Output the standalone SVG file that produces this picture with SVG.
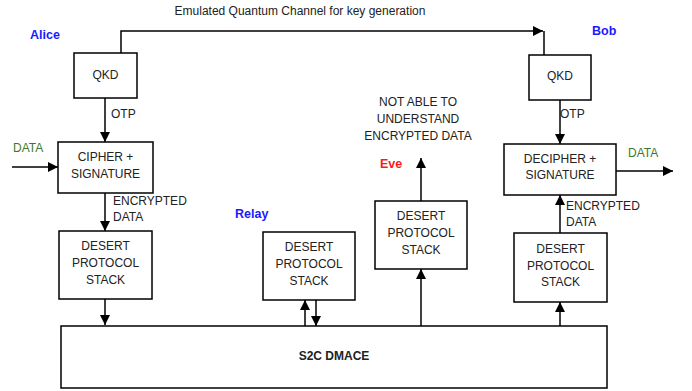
<svg xmlns="http://www.w3.org/2000/svg" width="692" height="391" viewBox="0 0 692 391">
<defs>
<marker id="ah" viewBox="0 0 10 10" refX="10" refY="5" markerWidth="10" markerHeight="10" markerUnits="userSpaceOnUse" orient="auto">
<path d="M0,0 L10,5 L0,10 z" fill="#000"/>
</marker>
</defs>
<style>
.box{fill:#fff;stroke:#000;stroke-width:1.5}
.t{font-family:"Liberation Sans",Arial,sans-serif;font-size:12px;fill:#222;text-anchor:middle}
.l{font-family:"Liberation Sans",Arial,sans-serif;font-size:12px;fill:#222}
.who{font-family:"Liberation Sans",Arial,sans-serif;font-size:12.5px;font-weight:bold}
.g{font-family:"Liberation Sans",Arial,sans-serif;font-size:12px;fill:#3a7a2a}
.c{stroke:#000;stroke-width:1.5;fill:none}
</style>
<rect width="692" height="391" fill="#fff"/>
<g id="connectors">
<polyline class="c" points="121,53 121,31 543,31" marker-end="url(#ah)"/>
<line class="c" x1="544" y1="31" x2="544" y2="55"/>
<line class="c" x1="105" y1="98" x2="105" y2="142" marker-end="url(#ah)"/>
<line class="c" x1="12" y1="167" x2="58" y2="167" marker-end="url(#ah)"/>
<line class="c" x1="105" y1="193" x2="105" y2="231" marker-end="url(#ah)"/>
<line class="c" x1="105" y1="299" x2="105" y2="325" marker-end="url(#ah)"/>
<line class="c" x1="305" y1="326" x2="305" y2="300" marker-end="url(#ah)"/>
<line class="c" x1="316" y1="300" x2="316" y2="326" marker-end="url(#ah)"/>
<line class="c" x1="421" y1="326" x2="421" y2="269" marker-end="url(#ah)"/>
<line class="c" x1="421" y1="201" x2="421" y2="158" marker-end="url(#ah)"/>
<line class="c" x1="560" y1="100" x2="560" y2="144" marker-end="url(#ah)"/>
<line class="c" x1="616" y1="171" x2="673" y2="171" marker-end="url(#ah)"/>
<line class="c" x1="560" y1="326" x2="560" y2="302" marker-end="url(#ah)"/>
<line class="c" x1="560" y1="233" x2="560" y2="195" marker-end="url(#ah)"/>
<text class="l" x="300" y="15" text-anchor="middle" font-size="11.3">Emulated Quantum Channel for key generation</text>
<text class="l" x="111" y="118">OTP</text>
<text class="l" x="560" y="118">OTP</text>
<text class="g" x="13" y="152">DATA</text>
<text class="g" x="628" y="157">DATA</text>
<text class="l" x="113" y="205">ENCRYPTED</text>
<text class="l" x="113" y="221">DATA</text>
<text class="l" x="566" y="210">ENCRYPTED</text>
<text class="l" x="566" y="226">DATA</text>
</g>
<g id="labels">
<text class="who" x="30" y="39" fill="#1a1aff">Alice</text>
<text class="who" x="592" y="35" fill="#1a1aff">Bob</text>
<text class="who" x="235" y="218" fill="#1a1aff">Relay</text>
<text class="who" x="380" y="168" fill="#ff1a1a">Eve</text>
<text class="t" x="418" y="106">NOT ABLE TO</text>
<text class="t" x="418" y="123">UNDERSTAND</text>
<text class="t" x="418" y="140">ENCRYPTED DATA</text>
</g>
<g id="alice-qkd">
<rect class="box" x="74" y="53" width="63" height="45"/>
<text class="t" x="105.5" y="79" font-size="9.8">QKD</text>
</g>
<g id="cipher">
<rect class="box" x="58" y="142" width="95" height="51"/>
<text class="t" x="105.5" y="161">CIPHER +</text>
<text class="t" x="105.5" y="178">SIGNATURE</text>
</g>
<g id="alice-desert">
<rect class="box" x="59" y="231" width="93" height="68"/>
<text class="t" x="105.5" y="250">DESERT</text>
<text class="t" x="105.5" y="267">PROTOCOL</text>
<text class="t" x="105.5" y="284">STACK</text>
</g>
<g id="relay-desert">
<rect class="box" x="263" y="232" width="92" height="68"/>
<text class="t" x="309" y="251">DESERT</text>
<text class="t" x="309" y="268">PROTOCOL</text>
<text class="t" x="309" y="285">STACK</text>
</g>
<g id="eve-desert">
<rect class="box" x="375" y="201" width="92" height="68"/>
<text class="t" x="421" y="220">DESERT</text>
<text class="t" x="421" y="237">PROTOCOL</text>
<text class="t" x="421" y="254">STACK</text>
</g>
<g id="bob-qkd">
<rect class="box" x="529" y="55" width="62" height="45"/>
<text class="t" x="560" y="80">QKD</text>
</g>
<g id="decipher">
<rect class="box" x="504" y="144" width="112" height="51"/>
<text class="t" x="560" y="163">DECIPHER +</text>
<text class="t" x="560" y="179">SIGNATURE</text>
</g>
<g id="bob-desert">
<rect class="box" x="514" y="233" width="93" height="69"/>
<text class="t" x="560.5" y="253">DESERT</text>
<text class="t" x="560.5" y="270">PROTOCOL</text>
<text class="t" x="560.5" y="286">STACK</text>
</g>
<g id="s2c">
<rect class="box" x="61" y="326" width="546" height="62"/>
<text class="t" x="334" y="360" font-weight="bold" font-size="13" fill="#000">S2C DMACE</text>
</g>
</svg>
